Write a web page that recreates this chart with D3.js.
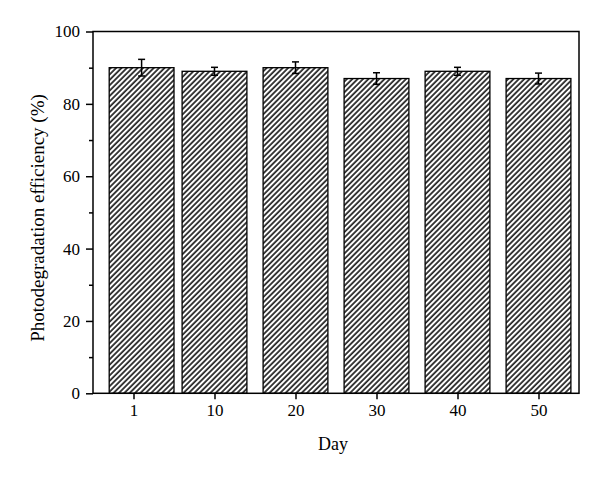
<!DOCTYPE html>
<html><head><meta charset="utf-8">
<script src="https://cdn.jsdelivr.net/npm/d3@7"></script>
<style>body{margin:0;background:#fff}svg{display:block}</style>
</head><body>
<script>
const days = [1, 10, 20, 30, 40, 50];
const efficiency = [90, 89, 90, 87, 89, 87];
const errors = [2.3, 1.1, 1.6, 1.6, 1.1, 1.5];
const xTickValues = [0, 10, 20, 30, 40, 50];
const xTickLabels = ["1", "10", "20", "30", "40", "50"];
const yTicks = [0, 20, 40, 60, 80, 100];
const yMinorTicks = [10, 30, 50, 70, 90];

const W = 600, H = 478;
const L = 93, R = 579, T = 31.5, B = 393.3;
const svg = d3.select("body").append("svg").attr("width", W).attr("height", H);
const font = "'Liberation Serif', 'Times New Roman', serif";

const defs = svg.append("defs");
const hp = 3.8;
const pat = defs.append("pattern").attr("id","hatch").attr("patternUnits","userSpaceOnUse")
  .attr("width", hp).attr("height", hp).attr("patternTransform","rotate(45)");
pat.append("rect").attr("width",hp).attr("height",hp).attr("fill","#fff");
pat.append("line").attr("x1",1).attr("y1",0).attr("x2",1).attr("y2",hp)
  .attr("stroke","#000").attr("stroke-width",1.5);

const x = d3.scaleLinear().domain([-5, 55]).range([L, R]);
const y = d3.scaleLinear().domain([0, 100]).range([B, T]);
const barW = x(8) - x(0);

// bars
svg.append("g").selectAll("rect").data(days).join("rect")
  .attr("x", (d) => x(d) - barW/2)
  .attr("y", (d,i) => y(efficiency[i]))
  .attr("width", barW)
  .attr("height", (d,i) => y(0) - y(efficiency[i]))
  .attr("fill", "url(#hatch)").attr("stroke", "#000").attr("stroke-width", 1.3);

// error bars
const eg = svg.append("g").attr("stroke","#000").attr("stroke-width",1.5);
days.forEach((d,i) => {
  const cx = x(d), hi = y(efficiency[i] + errors[i]), lo = y(efficiency[i] - errors[i]);
  eg.append("line").attr("x1",cx).attr("x2",cx).attr("y1",hi).attr("y2",lo);
  eg.append("line").attr("x1",cx-3.5).attr("x2",cx+3.5).attr("y1",hi).attr("y2",hi);
  eg.append("line").attr("x1",cx-3.5).attr("x2",cx+3.5).attr("y1",lo).attr("y2",lo);
});

// frame
svg.append("rect").attr("x",L).attr("y",T).attr("width",R-L).attr("height",B-T)
  .attr("fill","none").attr("stroke","#000").attr("stroke-width",1.5);

// axes
const xAxis = d3.axisBottom(x).tickValues(xTickValues).tickSize(6).tickPadding(5)
  .tickFormat((d,i) => xTickLabels[i]);
const gx = svg.append("g").attr("transform",`translate(0,${B})`).call(xAxis);
gx.select(".domain").remove();
const yAxis = d3.axisLeft(y).tickValues(yTicks).tickSize(7).tickPadding(6);
const gy = svg.append("g").attr("transform",`translate(${L},0)`).call(yAxis);
gy.select(".domain").remove();
const gym = svg.append("g").attr("transform",`translate(${L},0)`)
  .call(d3.axisLeft(y).tickValues(yMinorTicks).tickSize(4).tickFormat(""));
gym.select(".domain").remove();
[gx, gy, gym].forEach(g => {
  g.selectAll("line").attr("stroke","#000").attr("stroke-width",1.5);
  g.selectAll("text").attr("fill","#000").style("font-family",font).style("font-size","17px");
});

svg.append("text").attr("x", (L+R)/2 - 3).attr("y", 450).attr("text-anchor","middle")
  .style("font-family",font).style("font-size","18px").text("Day");
svg.append("text").attr("transform",`translate(44,218) rotate(-90)`).attr("text-anchor","middle")
  .style("font-family",font).style("font-size","19px").text("Photodegradation efficiency (%)");
</script>
</body></html>
